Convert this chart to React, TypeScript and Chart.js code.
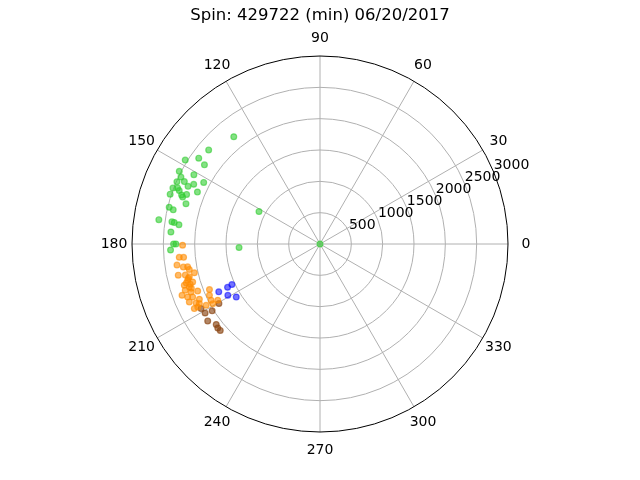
import React, { useEffect, useRef } from "react";
import Chart from "chart.js/auto";

const TITLE = "Spin: 429722 (min) 06/20/2017";
const R_MAX = 3000;
const RADIAL_TICKS = [500, 1000, 1500, 2000, 2500, 3000];
const ANGLE_TICKS = [0, 30, 60, 90, 120, 150, 180, 210, 240, 270, 300, 330];

// angle (deg) and radius for each group
const greenAngle = [
  128.8, 139.8, 144.7, 148.1, 145.6, 152.7, 151.2, 154.3, 152.1, 156.5, 155.3, 154.7,
  156.4, 159.2, 158.5, 159.2, 157.0, 161.6, 160.5, 159.6, 161.1, 163.3, 166.3, 166.9,
  171.4, 171.5, 171.6, 172.2, 175.4, 180.0, 180.0, 182.3, 152.0, 182.5, 0,
];
const greenRadius = [
  2196, 2326, 2371, 2533, 2235, 2527, 2297, 2463, 2100, 2490, 2383, 2229,
  2298, 2511, 2442, 2403, 2125, 2520, 2343, 2271, 2317, 2233, 2477, 2405,
  2601, 2389, 2351, 2272, 2387, 2337, 2299, 2387, 1103, 1293, 0,
];

const orangeAngle = [
  180.5, 185.4, 185.6, 188.4, 189.8, 191.0, 192.9, 192.4, 193.0, 194.1, 195.3, 196.6,
  196.9, 198.2, 200.4, 201.0, 200.4, 201.8, 202.6, 203.9, 205.5, 207.3, 206.3, 202.4,
  204.9, 207.3, 209.1, 208.8, 207.2, 208.3, 196.3, 197.2, 194.6, 199.0, 198.9, 189.6,
  204.6,
];
const orangeRadius = [
  2193, 2256, 2187, 2307, 2144, 2125, 2057, 2316, 2206, 2150, 2190, 2120,
  2263, 2195, 2196, 2091, 2349, 2275, 2201, 2281, 2190, 2196, 2147, 1908,
  1945, 1956, 1958, 1862, 2255, 2064, 2223, 2167, 2171, 2171, 2273, 2212,
  2117,
];

const blueAngle = [205.3, 205.1, 204.7, 209.1, 212.3];
const blueRadius = [1787, 1629, 1548, 1683, 1581];

const brownAngle = [211.0, 211.8, 210.5, 214.4, 217.8, 219.4, 220.9, 208.5];
const brownRadius = [2139, 2025, 1872, 2172, 2096, 2111, 2106, 2160];

const toXY = (angles: number[], radii: number[]) =>
  angles.map((a, i) => {
    const t = (a * Math.PI) / 180;
    return { x: radii[i] * Math.cos(t), y: radii[i] * Math.sin(t) };
  });

const FONT = "'DejaVu Sans', sans-serif";

const polarGrid = {
  id: "polarGrid",
  beforeDatasetsDraw(chart: any) {
    const { ctx, scales } = chart;
    const sx = scales.x;
    const sy = scales.y;
    const cx = sx.getPixelForValue(0);
    const cy = sy.getPixelForValue(0);
    const rad = (v: number) => sx.getPixelForValue(v) - cx;
    const outer = rad(R_MAX);

    ctx.save();
    ctx.strokeStyle = "#b0b0b0";
    ctx.lineWidth = 1;
    RADIAL_TICKS.slice(0, -1).forEach((v) => {
      ctx.beginPath();
      ctx.arc(cx, cy, rad(v), 0, Math.PI * 2);
      ctx.stroke();
    });
    ANGLE_TICKS.forEach((a) => {
      const t = (a * Math.PI) / 180;
      ctx.beginPath();
      ctx.moveTo(cx, cy);
      ctx.lineTo(cx + outer * Math.cos(t), cy - outer * Math.sin(t));
      ctx.stroke();
    });

    ctx.fillStyle = "#000";
    ctx.font = `14px ${FONT}`;
    ctx.textAlign = "center";
    ctx.textBaseline = "middle";
    ANGLE_TICKS.forEach((a) => {
      const t = (a * Math.PI) / 180;
      ctx.fillText(String(a), cx + (outer + 18) * Math.cos(t), cy - (outer + 18) * Math.sin(t));
    });

    const lt = (22.5 * Math.PI) / 180;
    ctx.textAlign = "left";
    ctx.textBaseline = "bottom";
    RADIAL_TICKS.forEach((v) => {
      ctx.fillText(String(v), cx + rad(v) * Math.cos(lt), cy - rad(v) * Math.sin(lt));
    });

    ctx.font = `16.5px ${FONT}`;
    ctx.textAlign = "center";
    ctx.textBaseline = "alphabetic";
    ctx.fillText(TITLE, 320, 19.5);
    ctx.restore();
  },
  afterDatasetsDraw(chart: any) {
    const { ctx, scales } = chart;
    const cx = scales.x.getPixelForValue(0);
    const cy = scales.y.getPixelForValue(0);
    const outer = scales.x.getPixelForValue(R_MAX) - cx;
    ctx.save();
    ctx.strokeStyle = "#000";
    ctx.lineWidth = 1;
    ctx.beginPath();
    ctx.arc(cx, cy, outer, 0, Math.PI * 2);
    ctx.stroke();
    ctx.restore();
  },
};

const App: React.FC = () => {
  const canvasRef = useRef<HTMLCanvasElement>(null);

  useEffect(() => {
    let chartInstance: Chart | null = null;
    if (canvasRef.current) {
      const ctx = canvasRef.current.getContext("2d");
      if (ctx) {
        const ds = (label: string, data: { x: number; y: number }[], color: string) => ({
          label,
          data,
          backgroundColor: color,
          borderColor: color,
          borderWidth: 1.2,
          pointRadius: 2.9,
        });
        chartInstance = new Chart(ctx, {
          type: "scatter",
          data: {
            datasets: [
              ds("green", toXY(greenAngle, greenRadius), "rgba(50, 205, 50, 0.6)"),
              ds("orange", toXY(orangeAngle, orangeRadius), "rgba(255, 140, 0, 0.6)"),
              ds("blue", toXY(blueAngle, blueRadius), "rgba(0, 0, 255, 0.55)"),
              ds("brown", toXY(brownAngle, brownRadius), "rgba(139, 69, 19, 0.65)"),
            ],
          },
          options: {
            responsive: false,
            animation: false,
            layout: { padding: { left: 132, right: 132, top: 56, bottom: 48 } },
            scales: {
              x: { type: "linear", min: -R_MAX, max: R_MAX, display: false },
              y: { type: "linear", min: -R_MAX, max: R_MAX, display: false },
            },
            plugins: {
              legend: { display: false },
              tooltip: { enabled: false },
            },
          },
          plugins: [polarGrid],
        });
      }
    }
    return () => {
      if (chartInstance) {
        chartInstance.destroy();
      }
    };
  }, []);

  return (
    <div style={{ position: "absolute", left: 0, top: 0, width: 640, height: 480, background: "#fff" }}>
      <canvas ref={canvasRef} width={640} height={480} />
    </div>
  );
};

export default App;
